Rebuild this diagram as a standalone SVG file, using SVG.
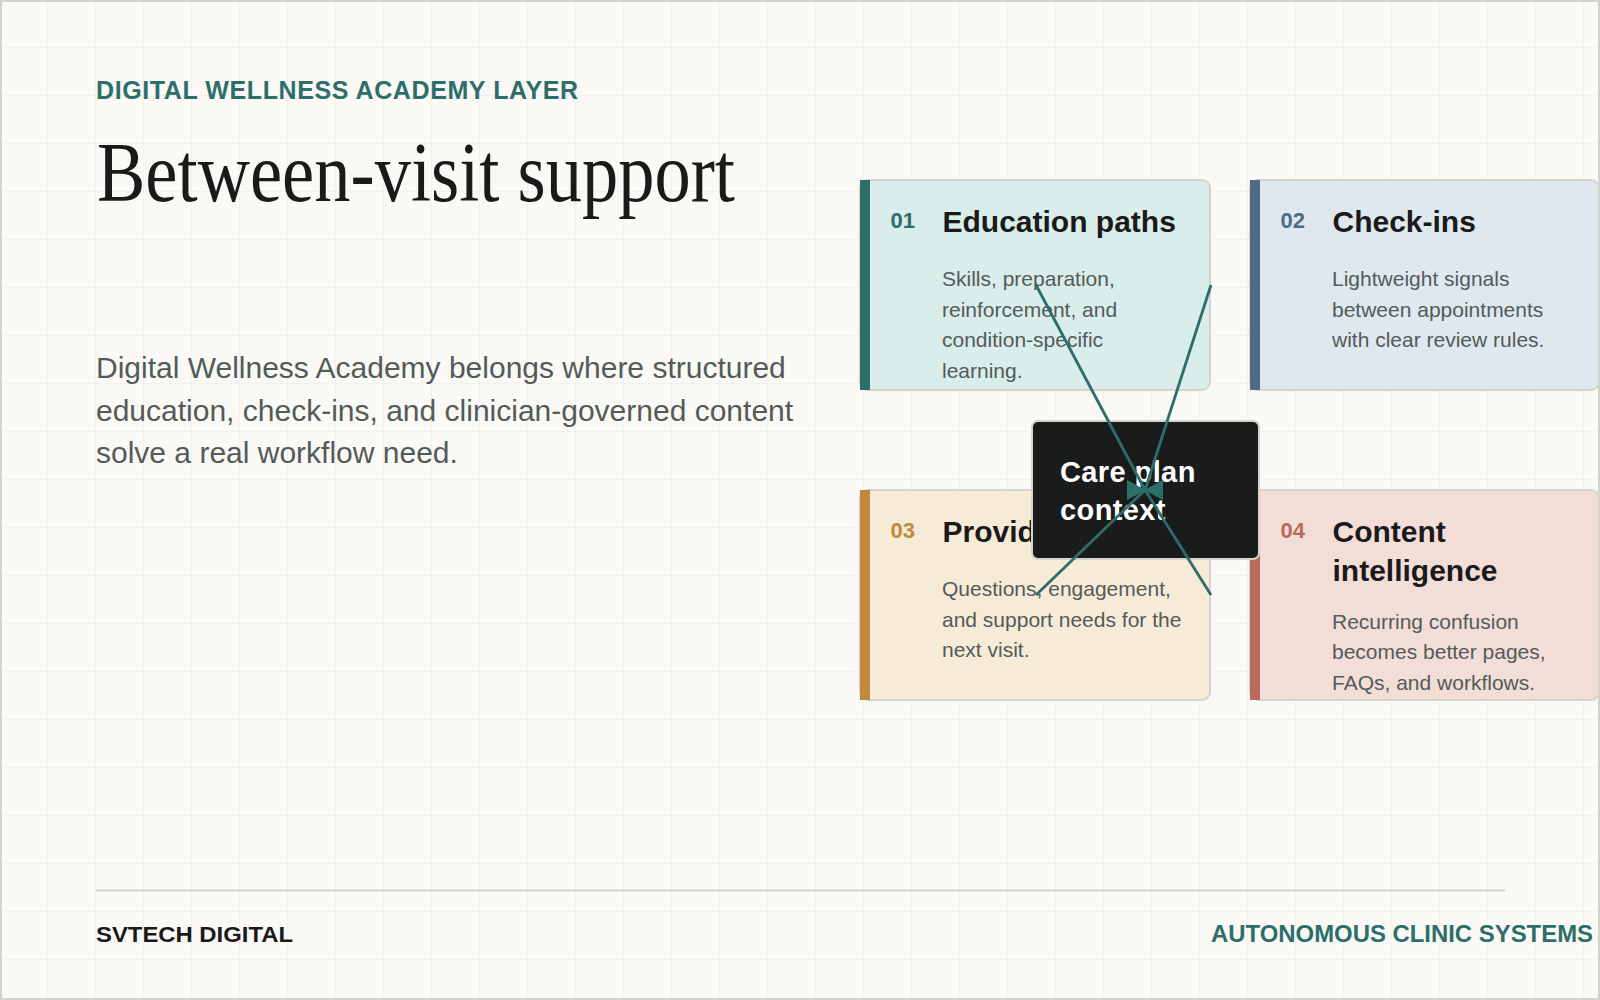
<svg xmlns="http://www.w3.org/2000/svg" width="1600" height="1000" viewBox="0 0 1600 1000">
<defs>
<pattern id="grid" width="48" height="48" patternUnits="userSpaceOnUse">
<path d="M48 0V48M0 48H48" fill="none" stroke="#ebe9e4" stroke-width="1"/>
</pattern>
<marker id="arrR" viewBox="0 0 18 20" markerWidth="18" markerHeight="20" refX="18" refY="10" orient="0" markerUnits="userSpaceOnUse">
<path d="M0 0L18 10L0 20Z" fill="#2e6e6a"/>
</marker>
<marker id="arrL" viewBox="0 0 18 20" markerWidth="18" markerHeight="20" refX="0" refY="10" orient="0" markerUnits="userSpaceOnUse">
<path d="M18 0L0 10L18 20Z" fill="#2e6e6a"/>
</marker>
</defs>
<style>
.sans{font-family:"Liberation Sans",Arial,sans-serif}
.card{stroke:#d5d3cd;stroke-width:2}
.num{font-family:"Liberation Sans",Arial,sans-serif;font-weight:700;font-size:22px}
.ttl{font-family:"Liberation Sans",Arial,sans-serif;font-weight:700;font-size:30px;fill:#1a1a1a}
.body{font-family:"Liberation Sans",Arial,sans-serif;font-size:21px;fill:#535b59}
.conn{stroke:#2e6e6a;stroke-width:2.8;fill:none}
</style>
<rect width="1600" height="1000" fill="#faf9f6"/>
<rect width="1600" height="1000" fill="url(#grid)"/>
<rect x="1" y="1" width="1598" height="998" fill="none" stroke="#d4d2cc" stroke-width="2"/>

<g id="header">
<text x="96" y="99" class="sans" font-size="25" font-weight="700" fill="#2e6e6a" textLength="482" lengthAdjust="spacing">DIGITAL WELLNESS ACADEMY LAYER</text>
<text x="97" y="201" font-family="'Liberation Serif','Times New Roman',serif" font-size="84" fill="#1a1a1a" textLength="638" lengthAdjust="spacingAndGlyphs">Between-visit support</text>
<text class="sans" font-size="30" fill="#535b59">
<tspan x="96" y="378">Digital Wellness Academy belongs where structured</tspan>
<tspan x="96" y="420.5">education, check-ins, and clinician-governed content</tspan>
<tspan x="96" y="463">solve a real workflow need.</tspan>
</text>
</g>

<g id="card01">
<rect x="860" y="180" width="350" height="210" rx="8" fill="#d9edea" class="card"/>
<rect x="860" y="180" width="10" height="210" fill="#2e6e6a"/>
<text x="890.5" y="228" class="num" fill="#2e6e6a">01</text>
<text x="942.5" y="232" class="ttl">Education paths</text>
<text class="body"><tspan x="942" y="286">Skills, preparation,</tspan><tspan x="942" y="316.7">reinforcement, and</tspan><tspan x="942" y="347.3">condition-specific</tspan><tspan x="942" y="378">learning.</tspan></text>
</g>

<g id="card02">
<rect x="1250" y="180" width="349" height="210" rx="8" fill="#e0e8ef" class="card"/>
<rect x="1250" y="180" width="10" height="210" fill="#4f6b85"/>
<text x="1280.5" y="228" class="num" fill="#4f6b85">02</text>
<text x="1332.5" y="232" class="ttl">Check-ins</text>
<text class="body"><tspan x="1332" y="286">Lightweight signals</tspan><tspan x="1332" y="316.7">between appointments</tspan><tspan x="1332" y="347.3">with clear review rules.</tspan></text>
</g>

<g id="card03">
<rect x="860" y="490" width="350" height="210" rx="8" fill="#f6ebd7" class="card"/>
<rect x="860" y="490" width="10" height="210" fill="#bf8a3b"/>
<text x="890.5" y="538" class="num" fill="#bf8a3b">03</text>
<text x="942.5" y="542" class="ttl">Provid</text>
<text class="body"><tspan x="942" y="596">Questions, engagement,</tspan><tspan x="942" y="626.7">and support needs for the</tspan><tspan x="942" y="657.3">next visit.</tspan></text>
</g>

<g id="card04">
<rect x="1250" y="490" width="349" height="210" rx="8" fill="#f3ddd7" class="card"/>
<rect x="1250" y="490" width="10" height="210" fill="#b96a5b"/>
<text x="1280.5" y="538" class="num" fill="#b96a5b">04</text>
<text class="ttl"><tspan x="1332.5" y="542">Content</tspan><tspan x="1332.5" y="581">intelligence</tspan></text>
<text class="body"><tspan x="1332" y="628.5">Recurring confusion</tspan><tspan x="1332" y="659">becomes better pages,</tspan><tspan x="1332" y="689.5">FAQs, and workflows.</tspan></text>
</g>

<g id="hub">
<rect x="1032" y="421" width="227" height="138" rx="6" fill="#1a1c1b" stroke="#d5d3cd" stroke-width="2"/>
<text class="sans" font-size="29" font-weight="700" fill="#ffffff" letter-spacing="0.4"><tspan x="1060" y="482">Care plan</tspan><tspan x="1060" y="520">context</tspan></text>
</g>

<g id="connectors">
<line x1="1036" y1="285" x2="1145" y2="490" class="conn" marker-end="url(#arrR)"/>
<line x1="1211" y1="285" x2="1145" y2="490" class="conn" marker-end="url(#arrL)"/>
<line x1="1036" y1="595" x2="1145" y2="490" class="conn" marker-end="url(#arrR)"/>
<line x1="1211" y1="595" x2="1145" y2="490" class="conn" marker-end="url(#arrL)"/>
</g>

<g id="footer">
<line x1="96" y1="890.5" x2="1505" y2="890.5" stroke="#d4d2cc" stroke-width="2"/>
<text x="96" y="942" class="sans" font-size="22" font-weight="700" fill="#1a1a1a" textLength="197" lengthAdjust="spacingAndGlyphs">SVTECH DIGITAL</text>
<text x="1211" y="942" class="sans" font-size="23" font-weight="700" fill="#2e6e6a" textLength="382" lengthAdjust="spacingAndGlyphs">AUTONOMOUS CLINIC SYSTEMS</text>
</g>
</svg>
